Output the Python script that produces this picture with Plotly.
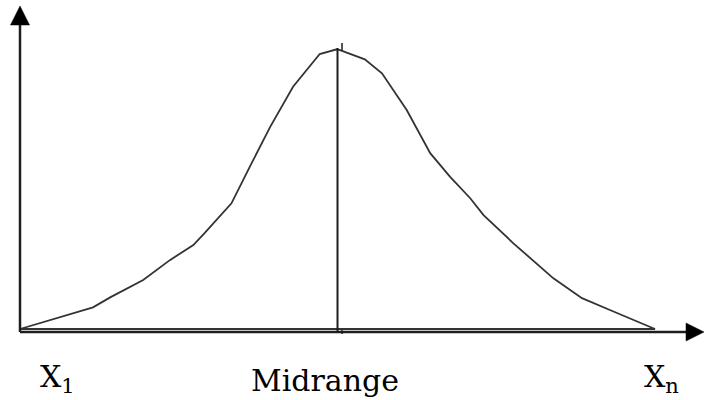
import plotly.graph_objects as go

# Frequency curve between the smallest (X1) and largest (Xn) observation,
# x on a 0..100 scale from X1 to Xn, y as relative frequency (peak = 100)
curve_x = [0, 9.45, 11.5, 14.2, 19.4, 23.6, 27.3, 29.1, 33.3, 36.2, 39.4, 43.0,
           47.2, 49.9, 50.4, 54.3, 57.0, 60.9, 64.6, 67.7, 70.9, 73.0, 77.7,
           84.0, 88.5, 92.9, 100]
curve_y = [0, 6.2, 7.75, 11.3, 17.5, 24.6, 30.0, 34.3, 44.9, 58.0, 72.2, 86.5,
           98.2, 99.9, 99.6, 96.3, 91.3, 78.2, 62.8, 54.4, 46.7, 40.7, 30.6,
           18.1, 11.0, 6.8, 0]

x_min, x_max = 0, 100
midrange = (x_min + x_max) / 2
peak = 100.4

label_names = ["X<sub>1</sub>", "Midrange", "X<sub>n</sub>"]

W, H = 704, 400
# pixel scale of the drawing
x0_px, sx = 20, 6.35      # px per x unit
y0_px, sy = 329, 2.8      # px per y unit


def px_x(p):
    return (p - x0_px) / sx


def px_y(p):
    return (y0_px - p) / sy


ink = "#1e1e1e"
axis_y = px_y(332)

fig = go.Figure()

# closed outline: rises along the curve and returns along the baseline
fig.add_trace(go.Scatter(
    x=curve_x + [curve_x[0]], y=curve_y + [curve_y[0]],
    mode="lines", line=dict(color="#333333", width=1.8),
    hoverinfo="skip", showlegend=False))

shapes = [
    # vertical axis
    dict(type="line", x0=0, x1=0, y0=axis_y, y1=px_y(20),
         line=dict(color=ink, width=2.5)),
    # horizontal axis
    dict(type="line", x0=0, x1=px_x(690), y0=axis_y, y1=axis_y,
         line=dict(color=ink, width=2.5)),
    # arrowheads
    dict(type="path",
         path=f"M {px_x(10.5)},{px_y(25)} L {px_x(20)},{px_y(6)} L {px_x(29.5)},{px_y(25)} Z",
         fillcolor="black", line=dict(color="black", width=0.5)),
    dict(type="path",
         path=f"M {px_x(686)},{px_y(323)} L {px_x(704)},{px_y(332)} L {px_x(686)},{px_y(341)} Z",
         fillcolor="black", line=dict(color="black", width=0.5)),
    # midrange line
    dict(type="line", x0=midrange, x1=midrange, y0=axis_y, y1=peak,
         line=dict(color=ink, width=2)),
    # small ticks beside the midrange line
    dict(type="line", x0=px_x(342), x1=px_x(342), y0=px_y(43), y1=px_y(51),
         line=dict(color=ink, width=1.5)),
    dict(type="line", x0=px_x(342), x1=px_x(342), y0=px_y(330), y1=px_y(334),
         line=dict(color=ink, width=1.5)),
]

serif = "DejaVu Serif"
font = dict(family=serif, size=30, color="black")
label_px = [38, 325, 642]
label_anchor = ["left", "center", "left"]
annotations = []
for name, xp, anc in zip(label_names, label_px, label_anchor):
    annotations.append(dict(
        x=xp / W, y=0, xref="paper", yref="paper", text=name,
        xanchor=anc, yanchor="bottom", yshift=0, showarrow=False, font=font))

fig.update_layout(
    width=W, height=H,
    margin=dict(l=0, r=0, t=0, b=0),
    paper_bgcolor="white", plot_bgcolor="white",
    font=dict(family=serif),
    xaxis=dict(range=[px_x(0), px_x(W)], visible=False, fixedrange=True),
    yaxis=dict(range=[px_y(H), px_y(0)], visible=False, fixedrange=True),
    shapes=shapes, annotations=annotations,
)

fig.write_html("out.html")
